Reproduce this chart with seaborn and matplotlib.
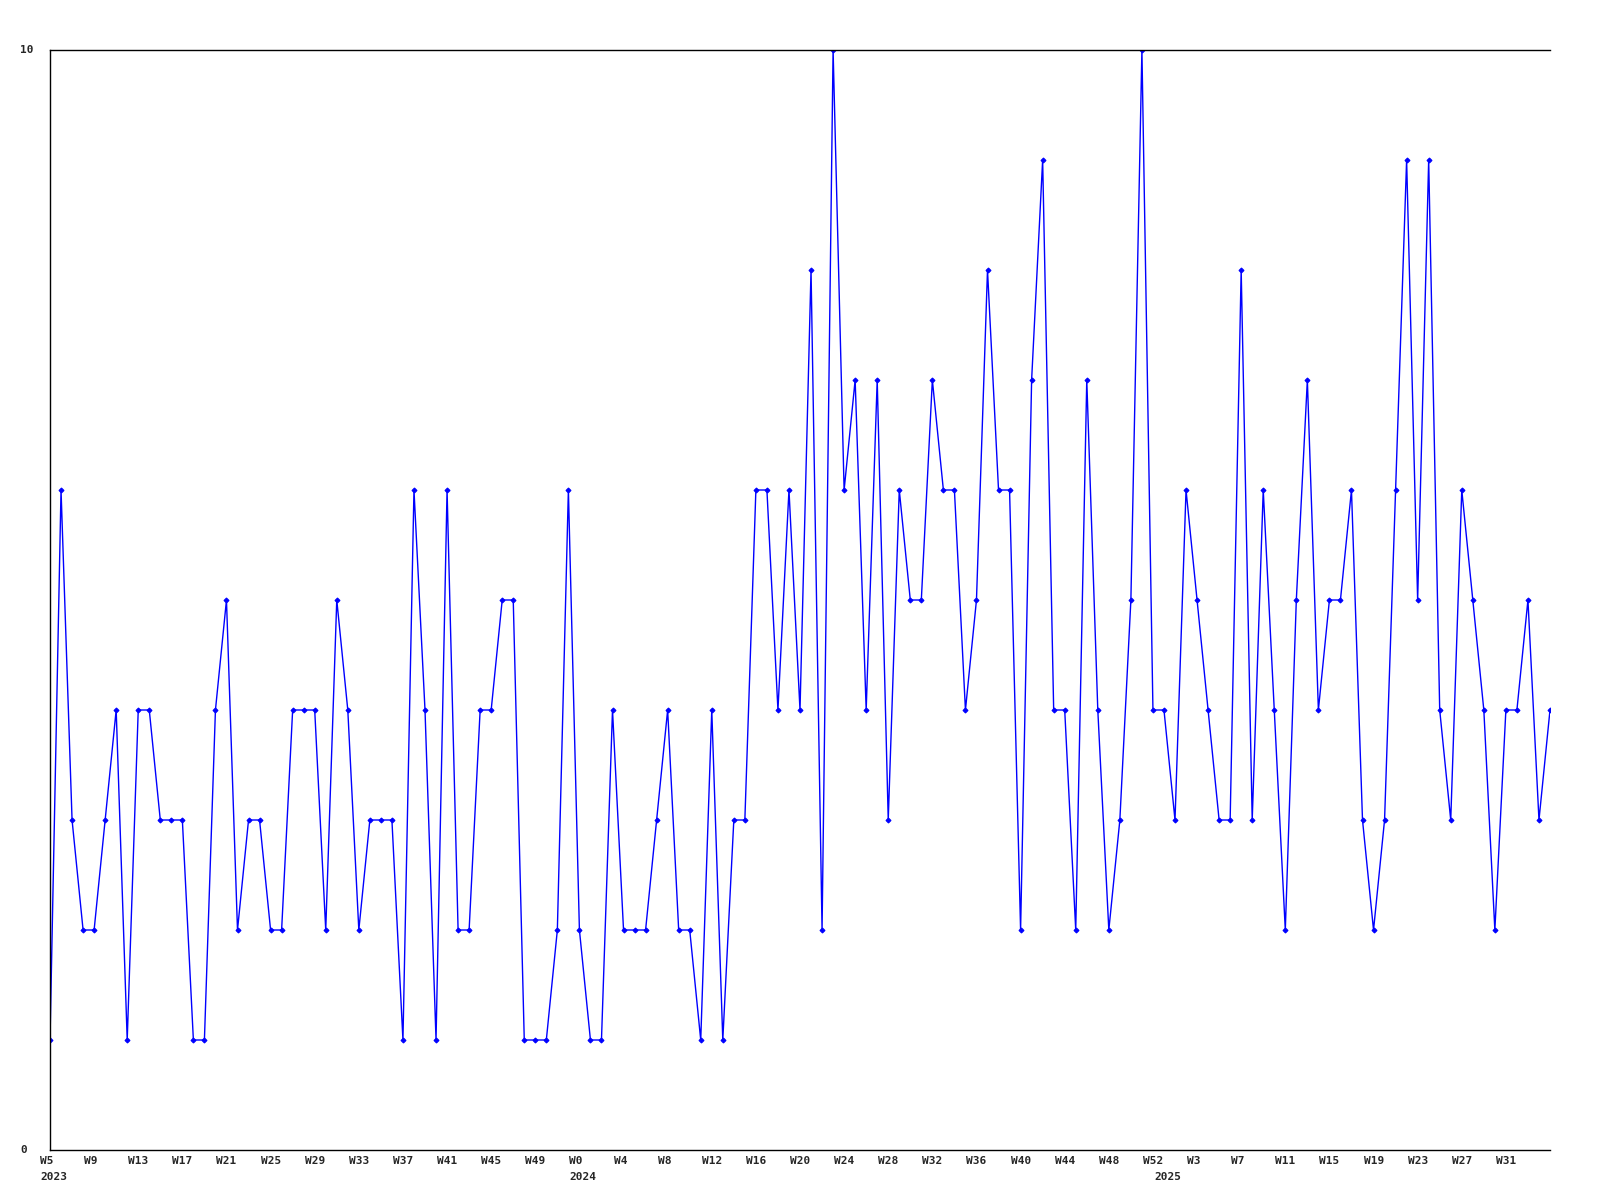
import numpy as np
import pandas as pd
import matplotlib
matplotlib.use("Agg")
import matplotlib.pyplot as plt
import matplotlib.transforms as mtransforms
import seaborn as sns

# Weekly values, 2023 W5 .. 2025 W35
values_2023 = [1, 6, 3, 2, 2, 3, 4, 1, 4, 4, 3, 3, 3, 1, 1, 4, 5, 2, 3, 3, 2, 2, 4, 4,
               4, 2, 5, 4, 2, 3, 3, 3, 1, 6, 4, 1, 6, 2, 2, 4, 4, 5, 5, 1, 1, 1, 2, 6]
values_2024 = [2, 1, 1, 4, 2, 2, 2, 3, 4, 2, 2, 1, 4, 1, 3, 3, 6, 6, 4, 6, 4, 8, 2, 10,
               6, 7, 4, 7, 3, 6, 5, 5, 7, 6, 6, 4, 5, 8, 6, 6, 2, 7, 9, 4, 4, 2, 7, 4,
               2, 3, 5, 10, 4]
values_2025 = [4, 3, 6, 5, 4, 3, 3, 8, 3, 6, 4, 2, 5, 7, 4, 5, 5, 6, 3, 2, 3, 6, 9, 5,
               9, 4, 3, 6, 5, 4, 2, 4, 4, 5, 3, 4]

week_labels = ["W5", "W9", "W13", "W17", "W21", "W25", "W29", "W33", "W37", "W41", "W45", "W49",
               "W0", "W4", "W8", "W12", "W16", "W20", "W24", "W28", "W32", "W36", "W40", "W44",
               "W48", "W52", "W3", "W7", "W11", "W15", "W19", "W23", "W27", "W31"]
year_labels = ["2023", "2024", "2025"]

values = values_2023 + values_2024 + values_2025
df = pd.DataFrame({"idx": np.arange(len(values)), "value": values})
year_starts = [0, len(values_2023), len(values_2023) + len(values_2024)]

sns.set_style("white")
plt.rcParams["font.family"] = ["DejaVu Sans Mono"]

fig = plt.figure(figsize=(16, 12), dpi=100)
ax = fig.add_axes([50 / 1600, 50 / 1200, 1500 / 1600, 1100 / 1200])

sns.lineplot(data=df, x="idx", y="value", ax=ax, color="#0000ff", linewidth=1,
             marker="D", markersize=2.5, markeredgewidth=0.8, markeredgecolor="#0000ff")

ax.set_xlim(0, len(values) - 1)
ax.set_ylim(0, 10)
ax.set_xticks([])
ax.set_yticks([])
ax.set_xlabel("")
ax.set_ylabel("")
for side in ["left", "top", "bottom"]:
    ax.spines[side].set_color("black")
    ax.spines[side].set_linewidth(1)
ax.spines["right"].set_visible(False)

# y labels: only 0 and 10
fig.text(20 / 1600, 1 - 50 / 1200, "10", fontsize=8, fontweight="bold", ha="left", va="center")
fig.text(20 / 1600, 1 - 1150 / 1200, "0", fontsize=8, fontweight="bold", ha="left", va="center")

# week labels every 4 points, left edge slightly left of the point
shift = mtransforms.ScaledTranslation(-10 / 100, 0, fig.dpi_scale_trans)
trans = mtransforms.blended_transform_factory(ax.transData, ax.transAxes) + shift
for i, lab in enumerate(week_labels):
    ax.text(i * 4, -11 / 1100, lab, transform=trans, fontsize=8, fontweight="bold",
            ha="left", va="center")
for x0, lab in zip(year_starts, year_labels):
    ax.text(x0, -27 / 1100, lab, transform=trans, fontsize=8, fontweight="bold",
            ha="left", va="center")

fig.savefig("out.png", dpi=100)
